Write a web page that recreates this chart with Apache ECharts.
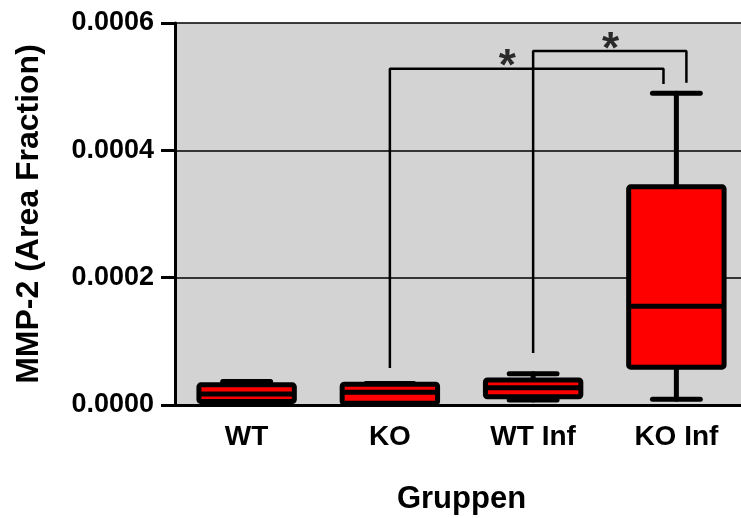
<!DOCTYPE html>
<html>
<head>
<meta charset="utf-8">
<script src="https://cdn.jsdelivr.net/npm/echarts@6/dist/echarts.min.js"></script>
<style>
  html, body { margin: 0; padding: 0; background: #fff; }
  #chart { width: 741px; height: 518px; }
</style>
</head>
<body>
<div id="chart"></div>
<script>
// Groups on the x axis
const groups = ['WT', 'KO', 'WT Inf', 'KO Inf'];

// Box statistics per group: lower whisker, Q1, median, Q3, upper whisker
const whiskerLow  = [0.0000020, 0.0000010, 0.0000079, 0.0000091];
const quartile1   = [0.0000055, 0.0000028, 0.0000130, 0.0000594];
const medians     = [0.0000172, 0.0000201, 0.0000269, 0.0001552];
const quartile3   = [0.0000317, 0.0000327, 0.0000392, 0.0003427];
const whiskerHigh = [0.0000369, 0.0000338, 0.0000492, 0.0004897];

// Y axis ticks
const yTicks = [0, 0.0002, 0.0004, 0.0006];

// Significance brackets (x in group-index units, y in data units)
const bracketKO = [[1, 0.0000581], [1, 0.000528], [2.91, 0.000528], [2.91, 0.000504]];
const bracketWTInf = [[2, 0.0000817], [2, 0.000556], [3.07, 0.000556], [3.07, 0.000506]];
const starMarks = [[1.82, 0.000529], [2.54, 0.000557]];

const FONT = "'Liberation Sans', Arial, Helvetica, sans-serif";

const boxData = groups.map((g, i) => [i, whiskerLow[i], quartile1[i], medians[i], quartile3[i], whiskerHigh[i]]);

function renderBox(params, api) {
  const idx = api.value(0);
  const pLow = api.coord([idx, api.value(1)]);
  const pQ1 = api.coord([idx, api.value(2)]);
  const pMed = api.coord([idx, api.value(3)]);
  const pQ3 = api.coord([idx, api.value(4)]);
  const pHigh = api.coord([idx, api.value(5)]);
  const cx = pMed[0];
  const band = api.size([1, 0])[0];
  const halfBox = band * 0.333;
  const halfCap = band * 0.167;
  const stroke = { stroke: '#000', lineWidth: 5, lineCap: 'round', lineJoin: 'round' };
  return {
    type: 'group',
    children: [
      { type: 'line', shape: { x1: cx, y1: pHigh[1], x2: cx, y2: pQ3[1] }, style: stroke },
      { type: 'line', shape: { x1: cx, y1: pQ1[1], x2: cx, y2: pLow[1] }, style: stroke },
      { type: 'line', shape: { x1: cx - halfCap, y1: pHigh[1], x2: cx + halfCap, y2: pHigh[1] }, style: stroke },
      { type: 'line', shape: { x1: cx - halfCap, y1: pLow[1], x2: cx + halfCap, y2: pLow[1] }, style: stroke },
      {
        type: 'rect',
        shape: { x: cx - halfBox, y: pQ3[1], width: halfBox * 2, height: pQ1[1] - pQ3[1], r: 2 },
        style: { fill: '#ff0000', stroke: '#000', lineWidth: 5, lineJoin: 'round' }
      },
      { type: 'line', shape: { x1: cx - halfBox, y1: pMed[1], x2: cx + halfBox, y2: pMed[1] }, style: { stroke: '#000', lineWidth: 5 } }
    ]
  };
}

const chart = echarts.init(document.getElementById('chart'), null, { renderer: 'canvas' });

chart.setOption({
  animation: false,
  backgroundColor: '#fff',
  grid: {
    left: 175, top: 23, width: 573, height: 382,
    outerBoundsMode: 'none',
    show: true, backgroundColor: '#d3d3d3', borderWidth: 0
  },
  xAxis: [
    {
      type: 'category',
      data: groups,
      boundaryGap: true,
      axisLine: { lineStyle: { color: '#000', width: 3 } },
      axisTick: { alignWithLabel: true, length: 12, lineStyle: { color: '#000', width: 3 } },
      axisLabel: { color: '#000', fontFamily: FONT, fontWeight: 'bold', fontSize: 28, margin: 18 },
      name: 'Gruppen',
      nameLocation: 'middle',
      nameGap: 79,
      nameTextStyle: { color: '#000', fontFamily: FONT, fontWeight: 'bold', fontSize: 31 },
      splitLine: { show: false }
    },
    {
      type: 'value',
      min: -0.5, max: 3.5,
      show: false
    }
  ],
  yAxis: {
    type: 'value',
    min: yTicks[0],
    max: yTicks[yTicks.length - 1],
    interval: yTicks[1] - yTicks[0],
    axisLine: { show: true, onZero: false, lineStyle: { color: '#000', width: 3 } },
    axisTick: { show: true, length: 14, lineStyle: { color: '#000', width: 3 } },
    axisLabel: {
      color: '#000', fontFamily: FONT, fontWeight: 'bold', fontSize: 27, margin: 21,
      formatter: v => v.toFixed(4)
    },
    splitLine: { show: true, lineStyle: { color: '#000', width: 1.5 } },
    name: 'MMP-2 (Area Fraction)',
    nameLocation: 'middle',
    nameGap: 130,
    nameTextStyle: { color: '#000', fontFamily: FONT, fontWeight: 'bold', fontSize: 32 }
  },
  series: [
    {
      type: 'line',
      xAxisIndex: 1,
      data: bracketKO,
      symbol: 'none',
      lineStyle: { color: '#000', width: 2.5 },
      z: 3
    },
    {
      type: 'line',
      xAxisIndex: 1,
      data: bracketWTInf,
      symbol: 'none',
      lineStyle: { color: '#000', width: 2.5 },
      z: 3
    },
    {
      type: 'scatter',
      xAxisIndex: 1,
      data: starMarks,
      symbolSize: 1,
      itemStyle: { color: 'rgba(0,0,0,0)' },
      label: {
        show: true, position: 'inside', formatter: '*',
        color: '#000', fontFamily: FONT, fontWeight: 'bold', fontSize: 44
      },
      z: 4
    },
    {
      type: 'custom',
      xAxisIndex: 0,
      data: boxData,
      encode: { x: 0, y: [1, 2, 3, 4, 5] },
      renderItem: renderBox,
      z: 5
    }
  ]
});
</script>
</body>
</html>
